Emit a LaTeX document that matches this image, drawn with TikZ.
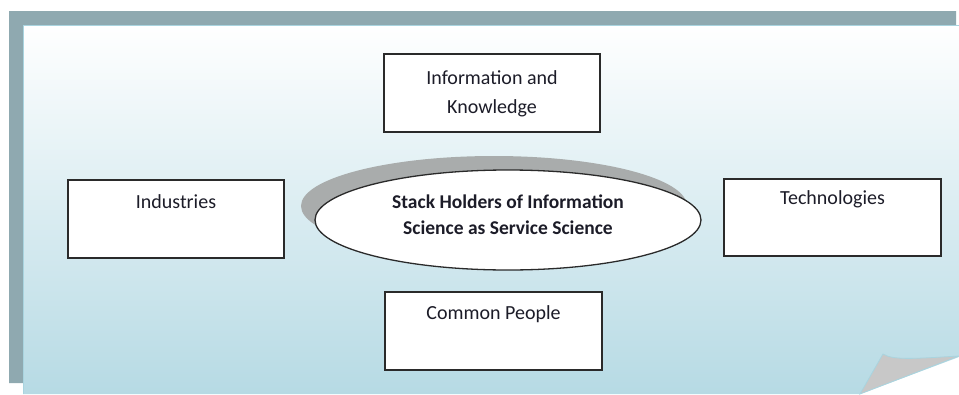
\documentclass[tikz,border=0pt]{standalone}
\usepackage{fontspec}
\setmainfont{Carlito}
\usetikzlibrary{shapes.geometric,shadows}
\definecolor{framecol}{HTML}{8FA9B0}
\definecolor{panelM}{HTML}{DDEDF2}
\definecolor{panelB}{HTML}{B6DAE4}
\definecolor{panelEdge}{HTML}{A9D4DF}
\definecolor{flapcol}{HTML}{C8C8C8}
\definecolor{shadowcol}{HTML}{A9ACAC}
\definecolor{linecol}{HTML}{2A2A2A}
\definecolor{txtcol}{HTML}{1C1C28}
\tikzset{
  stbox/.style={draw=linecol, line width=1.8pt, fill=white, inner sep=0pt,
    align=center, text=txtcol, font=\fontsize{20}{29}\selectfont},
  hub/.style={ellipse, draw=linecol, line width=1.3pt, fill=white, inner sep=0pt,
    minimum width=386pt, minimum height=100pt, align=center, text=txtcol,
    text height=40pt, text depth=12pt,
    font=\fontsize{19.5}{26}\selectfont\bfseries,
    drop shadow={shadow xshift=-14pt, shadow yshift=14pt, fill=shadowcol, opacity=1}}
}
\begin{document}
\begin{tikzpicture}[x=1pt,y=-1pt]
\useasboundingbox (0,0) rectangle (959,394);
\fill[white] (0,0) rectangle (959,394);
\fill[framecol] (9,11) -- (956,11) -- (956,25) -- (23,25) -- (23,383) -- (9,383) -- cycle;
\shade[top color=white, middle color=panelM, bottom color=panelB]
  (23,25) -- (959,25) -- (959,357) -- (860,394) -- (23,394) -- cycle;
\draw[panelEdge, line width=0.8pt] (23,394) -- (23,25) -- (959,25);
\fill[flapcol, draw=panelEdge, line width=0.8pt]
  (860,394) -- (883,354) .. controls (893,360) and (910,359) .. (959,356) -- cycle;

\node[hub] (hub) at (508,220) {Stack Holders of Information\\Science as Service Science};

\node[stbox, minimum width=216pt, text height=59pt, text depth=19pt] (info) at (492,93)
  {Information and\\Knowledge};
\node[stbox, minimum width=216pt, text height=28pt, text depth=50pt] (ind) at (176,219)
  {Industries};
\node[stbox, minimum width=217pt, text height=25pt, text depth=52pt] (tech) at (832.5,217.5)
  {Technologies};
\node[stbox, minimum width=217pt, text height=27pt, text depth=51pt] (people) at (493.5,331)
  {Common People};
\end{tikzpicture}
\end{document}
